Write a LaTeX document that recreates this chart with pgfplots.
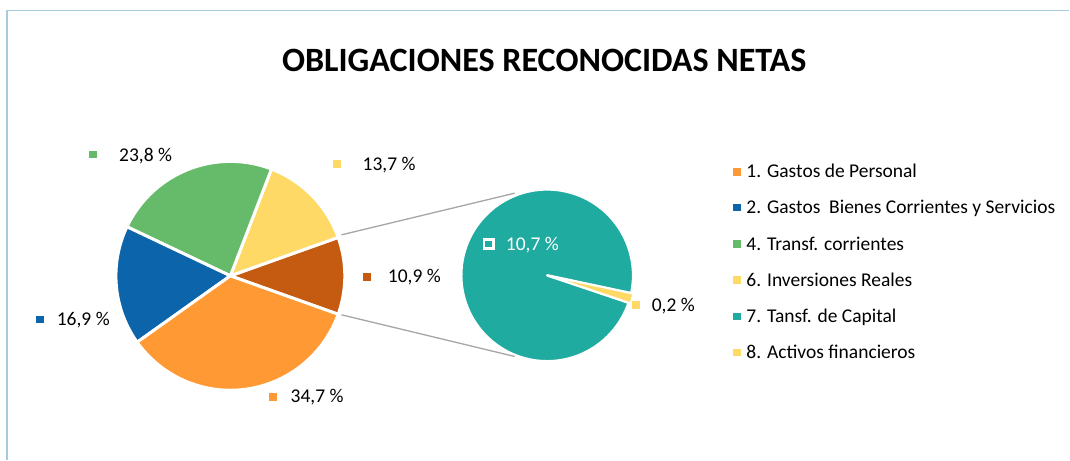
\documentclass[border=0pt]{standalone}
\usepackage{fontspec}
\setmainfont{Carlito}
\usepackage{pgfplots}
\usepackage{pgfplotstable}
\pgfplotsset{compat=1.18}
\definecolor{cOrange}{HTML}{FF9933}
\definecolor{cBlue}{HTML}{0C64AA}
\definecolor{cGreen}{HTML}{66BB6A}
\definecolor{cYellow}{HTML}{FFD966}
\definecolor{cBrown}{HTML}{C55A11}
\definecolor{cTeal}{HTML}{20ABA0}
\definecolor{cBorder}{HTML}{A5CBDC}
\definecolor{cConn}{HTML}{A6A6A6}
\newcommand\lbl{\fontsize{19.5bp}{23bp}\selectfont}

\pgfplotstableread{
code pct
1 34.7
2 16.9
4 23.8
6 13.7
7 10.7
8 0.2
}\shares

\begin{document}
\begin{tikzpicture}
\pgfplotstablegetelem{0}{pct}\of\shares \let\pA\pgfplotsretval
\pgfplotstablegetelem{1}{pct}\of\shares \let\pB\pgfplotsretval
\pgfplotstablegetelem{2}{pct}\of\shares \let\pC\pgfplotsretval
\pgfplotstablegetelem{3}{pct}\of\shares \let\pD\pgfplotsretval
\pgfplotstablegetelem{4}{pct}\of\shares \let\pG\pgfplotsretval
\pgfplotstablegetelem{5}{pct}\of\shares \let\pH\pgfplotsretval
\pgfmathsetmacro{\other}{\pG+\pH}
\pgfmathsetmacro{\aS}{-1.8*\other}
\pgfmathsetmacro{\aE}{1.8*\other}
\pgfmathsetmacro{\yE}{\aE+3.6*\pD}
\pgfmathsetmacro{\gE}{\yE+3.6*\pC}
\pgfmathsetmacro{\bE}{\gE+3.6*\pB}
\pgfmathsetmacro{\oE}{\bE+3.6*\pA}
\pgfmathsetmacro{\sA}{360*\pH/\other}
\pgfmathsetmacro{\sS}{-15.3-\sA/2}
\pgfmathsetmacro{\sE}{-15.3+\sA/2}
\pgfmathsetmacro{\tE}{\sS+360}
\begin{axis}[width=1070bp, height=460bp, scale only axis,
  xmin=0, xmax=1070, ymin=0, ymax=460, y dir=reverse,
  axis lines=none, clip=false, samples=120]
\path (0,0) rectangle (1070,460);
% border
\addplot[cBorder, line width=1.3bp] coordinates {(7,460) (7,10.5) (1070,10.5)};
% main pie
\addplot[fill=cBrown, draw=white, line width=3bp, line join=round, domain=\aS:\aE, variable=\t]
  ({230.5+114.5*cos(\t)},{276-114.5*sin(\t)}) -- (230.5,276) -- cycle;
\addplot[fill=cYellow, draw=white, line width=3bp, line join=round, domain=\aE:\yE, variable=\t]
  ({230.5+114.5*cos(\t)},{276-114.5*sin(\t)}) -- (230.5,276) -- cycle;
\addplot[fill=cGreen, draw=white, line width=3bp, line join=round, domain=\yE:\gE, variable=\t]
  ({230.5+114.5*cos(\t)},{276-114.5*sin(\t)}) -- (230.5,276) -- cycle;
\addplot[fill=cBlue, draw=white, line width=3bp, line join=round, domain=\gE:\bE, variable=\t]
  ({230.5+114.5*cos(\t)},{276-114.5*sin(\t)}) -- (230.5,276) -- cycle;
\addplot[fill=cOrange, draw=white, line width=3bp, line join=round, domain=\bE:\oE, variable=\t]
  ({230.5+114.5*cos(\t)},{276-114.5*sin(\t)}) -- (230.5,276) -- cycle;
% second pie
\addplot[fill=cTeal, draw=white, line width=2.5bp, line join=round, domain=\sE:\tE, variable=\t]
  ({547.5+86*cos(\t)},{275.5-86*sin(\t)}) -- (547.5,275.5) -- cycle;
\addplot[fill=cYellow, draw=white, line width=1.8bp, line join=round, domain=\sS:\sE, variable=\t]
  ({549.4+86*cos(\t)},{276-86*sin(\t)}) -- (549.4,276) -- cycle;
% connectors
\addplot[cConn, line width=1.3bp] coordinates {(341.7,235) (515,193.3)};
\addplot[cConn, line width=1.3bp] coordinates {(341.7,315) (515,356.7)};
% markers (labels and legend)
\addplot[only marks, mark=square*, color=cOrange, mark size=3.3bp] coordinates {(273,396.7) (737,171.7)};
\addplot[only marks, mark=square*, color=cBlue, mark size=3.3bp] coordinates {(40,319.5) (737,207.5)};
\addplot[only marks, mark=square*, color=cGreen, mark size=3.3bp] coordinates {(92.7,154.3) (737,244)};
\addplot[only marks, mark=square*, color=cYellow, mark size=3.3bp] coordinates {(336.7,164) (737,280) (636,305) (737,352.5)};
\addplot[only marks, mark=square*, color=cTeal, mark size=3.3bp] coordinates {(737,316.5)};
\addplot[only marks, mark=square*, color=cBrown, mark size=3.3bp] coordinates {(367,277)};
\addplot[only marks, mark=square, color=white, mark size=4.6bp, mark options={line width=2.6bp}] coordinates {(489,244)};
% title
\node[anchor=base, inner sep=0pt] at (544.5,72) {\fontsize{34.1bp}{40bp}\selectfont\bfseries OBLIGACIONES RECONOCIDAS NETAS};
% data labels
\node[anchor=base west, inner sep=0pt] at (119,161.7) {\lbl 23,8 \%};
\node[anchor=base west, inner sep=0pt] at (362.7,170.2) {\lbl 13,7 \%};
\node[anchor=base west, inner sep=0pt] at (388,282.2) {\lbl 10,9 \%};
\node[anchor=base west, inner sep=0pt] at (56.7,326) {\lbl 16,9 \%};
\node[anchor=base west, inner sep=0pt] at (290.7,403) {\lbl 34,7 \%};
\node[anchor=base west, inner sep=0pt] at (652,311.2) {\lbl 0,2 \%};
\node[anchor=base west, inner sep=0pt, text=white] at (506,250.2) {\lbl 10,7 \%};
% legend
\node[anchor=base west, inner sep=0pt] at (746.7,177.9) {\lbl 1. Gastos de Personal};
\node[anchor=base west, inner sep=0pt] at (746.7,213.7) {\lbl 2. Gastos~ Bienes Corrientes y Servicios};
\node[anchor=base west, inner sep=0pt] at (746.7,250.2) {\lbl 4. Transf. corrientes};
\node[anchor=base west, inner sep=0pt] at (746.7,286.2) {\lbl 6. Inversiones Reales};
\node[anchor=base west, inner sep=0pt] at (746.7,322.5) {\lbl 7. Tansf. de Capital};
\node[anchor=base west, inner sep=0pt] at (746.7,358.5) {\lbl 8. Activos financieros};
\end{axis}
\end{tikzpicture}
\end{document}
